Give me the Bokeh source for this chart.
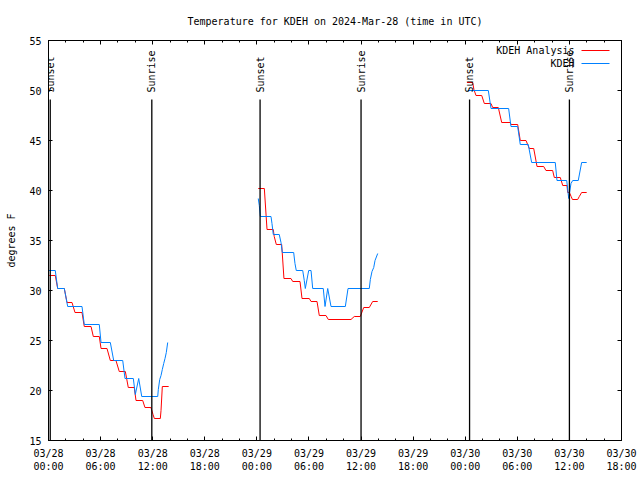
import math
from bokeh.plotting import figure
from bokeh.models import Range1d, FixedTicker, LinearAxis, Label, Arrow, ColumnDataSource
from bokeh.core.properties import value
from bokeh.embed import file_html
from bokeh.resources import INLINE

FONT = "DejaVu Sans Mono"
RED = "#ff0000"
BLUE = "#0080ff"

# ---------------- data (hours since 2024-03-28 00:00 UTC, degrees F) ----------------
tick_hours = [0, 6, 12, 18, 24, 30, 36, 42, 48, 54, 60, 66]
tick_labels = ["03/28\n00:00", "03/28\n06:00", "03/28\n12:00", "03/28\n18:00",
               "03/29\n00:00", "03/29\n06:00", "03/29\n12:00", "03/29\n18:00",
               "03/30\n00:00", "03/30\n06:00", "03/30\n12:00", "03/30\n18:00"]
minor_hours = list(range(0, 67, 2))
temp_ticks = [15, 20, 25, 30, 35, 40, 45, 50, 55]

event_hours = [0.2, 11.9, 24.37, 36.0, 48.5, 60.0]
event_names = ["Sunset", "Sunrise", "Sunset", "Sunrise", "Sunset", "Sunrise"]

# KDEH Analysis (red)
an1_h = [0.1, 0.78, 1.06, 1.82, 2.13, 2.71, 3.05, 3.86, 4.12, 4.90, 5.16, 5.85, 6.05, 6.74,
         7.12, 7.77, 8.15, 8.85, 9.19, 9.88, 10.08, 10.85, 11.11, 11.80, 12.04, 12.19,
         12.88, 12.96, 13.11, 13.84]
an1_t = [31.5, 31.5, 30.2, 30.2, 28.8, 28.8, 27.8, 27.8, 26.4, 26.4, 25.4, 25.4, 24.2, 24.2,
         23.0, 23.0, 21.9, 21.9, 20.3, 20.3, 19.0, 19.0, 18.3, 18.3, 17.6, 17.2,
         17.2, 18.0, 20.4, 20.4]
an2_h = [24.16, 24.86, 25.17, 25.89, 26.0, 26.24, 26.86, 27.12, 27.93, 28.13, 28.97, 29.20,
         30.04, 30.24, 30.93, 31.19, 31.96, 32.23, 34.84, 35.22, 35.91, 36.31, 36.95,
         37.34, 37.92]
an2_t = [40.2, 40.2, 36.1, 36.1, 35.4, 34.6, 34.6, 31.2, 31.2, 30.9, 30.9, 29.2,
         29.2, 28.9, 28.9, 27.5, 27.5, 27.1, 27.1, 27.4, 27.4, 28.3, 28.3,
         28.9, 28.9]
an3_h = [48.2, 48.86, 49.0, 49.24, 49.9, 50.2, 50.97, 51.16, 51.81, 52.2, 53.19, 53.27,
         54.04, 54.34, 55.0, 55.38, 55.89, 56.27, 57.04, 57.3, 58.07, 58.26, 58.95,
         59.23, 59.72, 59.8, 60.0, 60.2, 60.35, 60.95, 61.14, 61.41, 61.99]
an3_t = [50.8, 50.8, 50.1, 49.5, 49.5, 48.7, 48.7, 48.3, 48.3, 46.8, 46.8, 46.6,
         46.6, 45.0, 45.0, 44.2, 44.2, 42.4, 42.4, 42.0, 42.0, 41.3, 41.3,
         40.5, 40.5, 39.8, 39.8, 39.4, 39.1, 39.1, 39.4, 39.8, 39.8]

# KDEH observations (blue)
ob1_h = [0.0, 0.78, 1.06, 1.82, 2.21, 3.86, 4.12, 5.85, 6.05, 7.12, 7.51, 8.55, 8.81,
         9.77, 10.0, 10.39, 10.74, 12.58, 12.65, 12.81, 12.96, 13.11, 13.27, 13.42,
         13.57, 13.73]
ob1_t = [32.0, 32.0, 30.2, 30.2, 28.4, 28.4, 26.6, 26.6, 24.8, 24.8, 23.0, 23.0, 21.2,
         21.2, 19.6, 21.2, 19.4, 19.4, 20.1, 21.1, 21.5, 22.1, 22.7, 23.2,
         23.8, 24.8]
ob2_h = [24.16, 24.28, 24.40, 25.63, 25.74, 25.89, 26.58, 26.78, 26.93, 28.24, 28.39,
         28.54, 29.28, 29.46, 29.58, 29.97, 30.24, 30.43, 31.65, 31.85, 32.16, 32.54,
         34.19, 34.50, 36.95, 37.07, 37.26, 37.46, 37.61, 37.92]
ob2_t = [39.2, 38.5, 37.4, 37.4, 36.7, 35.6, 35.6, 34.8, 33.8, 33.8, 32.7,
         32.0, 32.0, 31.0, 30.2, 32.0, 32.0, 30.2, 30.2, 28.4, 30.2, 28.4,
         28.4, 30.2, 30.2, 31.1, 31.9, 32.3, 33.0, 33.7]
ob3_h = [48.3, 50.66, 50.97, 53.0, 53.27, 54.04, 54.34, 55.26, 55.65, 58.37, 58.57,
         59.69, 59.92, 60.18, 60.38, 61.02, 61.41, 61.99]
ob3_t = [50.0, 50.0, 48.2, 48.2, 46.4, 46.4, 44.6, 44.6, 42.8, 42.8, 41.0,
         41.0, 39.2, 40.7, 41.0, 41.0, 42.8, 42.8]

series_names = ["KDEH Analysis", "KDEH"]

# ---------------- figure ----------------
p = figure(width=640, height=480, output_backend="svg", toolbar_location=None,
           x_range=Range1d(0, 66), y_range=Range1d(15, 55),
           min_border_left=48, min_border_right=19, min_border_top=40, min_border_bottom=40)
p.title.text = "Temperature for KDEH on 2024-Mar-28 (time in UTC)"
p.title.align = "center"
p.title.text_font = FONT
p.title.text_font_size = "10px"
p.title.text_font_style = "normal"
p.title.text_color = "black"
p.title.standoff = 27
p.grid.visible = False
p.outline_line_color = "black"
p.background_fill_color = "white"
p.border_fill_color = "white"

xt = FixedTicker(ticks=tick_hours, minor_ticks=minor_hours)
yt = FixedTicker(ticks=temp_ticks, minor_ticks=[])


def style_axis(ax, show_labels=True):
    ax.axis_line_color = "black"
    ax.major_tick_line_color = "black"
    ax.minor_tick_line_color = "black"
    ax.major_tick_in = 4
    ax.major_tick_out = 0
    ax.minor_tick_in = 2
    ax.minor_tick_out = 0
    ax.major_label_text_font = FONT
    ax.major_label_text_font_size = "10px"
    ax.major_label_text_color = "black"
    if not show_labels:
        ax.major_label_text_font_size = "0px"
        ax.major_label_standoff = 0


p.xaxis.ticker = xt
p.xaxis.major_label_overrides = {h: lab for h, lab in zip(tick_hours, tick_labels)}
style_axis(p.xaxis[0])
p.xaxis.major_label_standoff = 7

p.yaxis.ticker = yt
style_axis(p.yaxis[0])
p.yaxis.major_label_standoff = 7
p.yaxis.axis_label = "degrees F"
p.yaxis.axis_label_text_font = FONT
p.yaxis.axis_label_text_font_size = "10px"
p.yaxis.axis_label_text_font_style = "normal"
p.yaxis.axis_label_text_color = "black"
p.yaxis.axis_label_standoff = 9

top = LinearAxis(ticker=xt, major_label_overrides={h: "" for h in tick_hours})
style_axis(top, False)
p.add_layout(top, "above")
right = LinearAxis(ticker=yt, major_label_overrides={t: "" for t in temp_ticks})
style_axis(right, False)
p.add_layout(right, "right")

# data lines: analysis first, observations on top
for hh, tt in [(an1_h, an1_t), (an2_h, an2_t), (an3_h, an3_t)]:
    p.line(hh, tt, line_color=RED, line_width=1)
for hh, tt in [(ob1_h, ob1_t), (ob2_h, ob2_t), (ob3_h, ob3_t)]:
    p.line(hh, tt, line_color=BLUE, line_width=1)

# sunset / sunrise markers
ev = ColumnDataSource(dict(h=event_hours, name=event_names))
p.segment(x0="h", y0=15, x1="h", y1=49.1, source=ev, line_color="black", line_width=1.3)
p.text(x="h", y=49.8, text="name", source=ev, angle=math.pi / 2,
       text_align="left", text_baseline="middle", text_font=value(FONT),
       text_font_size="10px", text_color="black")

# legend (gnuplot style: text right-justified, sample line to the right)
for i, (name, col) in enumerate(zip(series_names, [RED, BLUE])):
    ys = 390 - 13 * i
    p.add_layout(Label(x=526, y=ys, x_units="screen", y_units="screen", text=name,
                       text_align="right", text_baseline="middle", text_font=FONT,
                       text_font_size="10px", text_color="black"))
    p.add_layout(Arrow(x_start=533, y_start=ys, x_end=561, y_end=ys,
                       start_units="screen", end_units="screen", end=None,
                       line_color=col, line_width=1))

open("out.html", "w").write(file_html(p, INLINE))
